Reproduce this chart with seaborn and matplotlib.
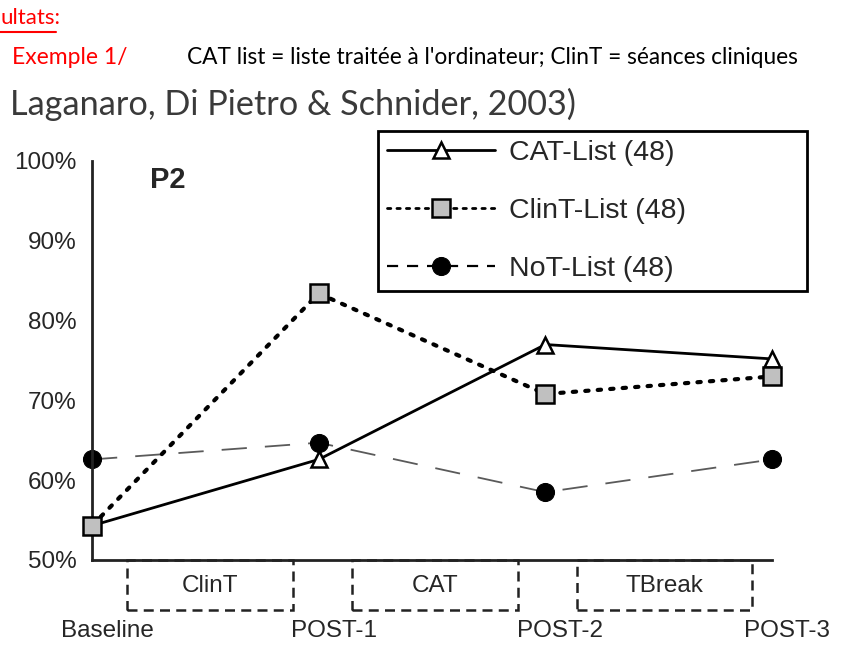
import matplotlib
matplotlib.use("Agg")
import matplotlib.pyplot as plt
import matplotlib.transforms as mtransforms
from matplotlib.patches import Rectangle
import seaborn as sns
import pandas as pd

stages = ["Baseline", "POST-1", "POST-2", "POST-3"]
cat_list = [54.3, 62.6, 77.0, 75.2]
clint_list = [54.3, 83.4, 70.8, 73.0]
not_list = [62.6, 64.7, 58.5, 62.6]
series_labels = ["CAT-List (48)", "ClinT-List (48)", "NoT-List (48)"]
yticks = [50, 60, 70, 80, 90, 100]
ytick_labels = ["50%", "60%", "70%", "80%", "90%", "100%"]
periods = ["ClinT", "CAT", "TBreak"]

sns.set_style("white")
plt.rcParams["font.family"] = ["Liberation Sans", "DejaVu Sans"]

W, H = 842, 659
fig = plt.figure(figsize=(W / 100, H / 100), dpi=100)
ax = fig.add_axes([92 / W, 1 - 560 / H, (772 - 92) / W, (560 - 161) / H])

xpos = list(range(len(stages)))
df_cat = pd.DataFrame({"x": xpos, "v": cat_list})
df_clint = pd.DataFrame({"x": xpos, "v": clint_list})
df_not = pd.DataFrame({"x": xpos, "v": not_list})

sns.lineplot(data=df_not, x="x", y="v", ax=ax, color="#5a5a5a", linewidth=1.3,
             linestyle=(0, (14, 10)), marker="o", markersize=13,
             markerfacecolor="black", markeredgecolor="black",
             label=series_labels[2], zorder=2, clip_on=False)
sns.lineplot(data=df_cat, x="x", y="v", ax=ax, color="black", linewidth=2,
             linestyle="-", marker="^", markersize=11,
             markerfacecolor="white", markeredgecolor="black", markeredgewidth=1.8,
             label=series_labels[0], zorder=3, clip_on=False)
sns.lineplot(data=df_clint, x="x", y="v", ax=ax, color="black", linewidth=3,
             linestyle=(0, (0.8, 2.2)), dash_capstyle="round", marker="s", markersize=13,
             markerfacecolor="#c0c0c0", markeredgecolor="black", markeredgewidth=1.8,
             label=series_labels[1], zorder=4, clip_on=False)

ax.set_xlim(0, 3)
ax.set_ylim(50, 100)
ax.set_xlabel("")
ax.set_ylabel("")
ax.set_yticks(yticks)
ax.set_yticklabels(ytick_labels, fontsize=17.5)
ax.set_xticks(xpos)
ax.set_xticklabels(stages, fontsize=17.5)
for s in ["top", "right"]:
    ax.spines[s].set_visible(False)
for s in ["left", "bottom"]:
    ax.spines[s].set_linewidth(2)
    ax.spines[s].set_color("#222222")
ax.tick_params(axis="y", direction="out", length=7, width=1.6, color="#222222", pad=4)
ax.tick_params(axis="x", direction="inout", length=20, width=1.6, color="#222222", pad=33)
offset = mtransforms.ScaledTranslation(15 / 100, 0, fig.dpi_scale_trans)
for lab in ax.get_xticklabels():
    lab.set_transform(lab.get_transform() + offset)

ax.text(0.256, 97.6, "P2", fontsize=21, fontweight="bold", ha="left", va="center")

# period boxes
box_x = [(0.154, 0.887), (1.147, 1.879), (2.14, 2.91)]
for (x0, x1), name in zip(box_x, periods):
    r = Rectangle((x0, 43.7), x1 - x0, 6.3, fill=False, edgecolor="#222222",
                  linewidth=1.8, linestyle=(0, (4, 2.5)), clip_on=False)
    ax.add_patch(r)
    ax.text((x0 + x1) / 2, 46.8, name, ha="center", va="center", fontsize=17.5, clip_on=False)

handles, labels = ax.get_legend_handles_labels()
order = [labels.index(l) for l in series_labels]
leg = ax.legend([handles[i] for i in order], [labels[i] for i in order],
                loc="upper left", mode="expand",
                bbox_to_anchor=(378 / W, 1 - 290 / H, (807 - 378) / W, (290 - 131) / H),
                bbox_transform=fig.transFigure, borderaxespad=0,
                fontsize=20.5, handlelength=3.8, handletextpad=0.5,
                labelspacing=1.14, borderpad=0.3, frameon=True, fancybox=False,
                framealpha=1, edgecolor="black")
leg.get_frame().set_linewidth(2)
leg_lines = leg.get_lines()
leg_lines[1].set_linewidth(2)
leg_lines[1].set_linestyle((0, (1.2, 2.2)))
leg_lines[2].set_color("black")
leg_lines[2].set_linewidth(1.6)
leg_lines[2].set_linestyle((0, (5, 4)))

# header texts
hdr = ["Lato", "DejaVu Sans"]
fig.text(0, 1 - 18 / H, "ultats:", color="#ff0000", fontsize=16, family=hdr,
         ha="left", va="center")
fig.add_artist(plt.Line2D([0, 56 / W], [1 - 32 / H, 1 - 32 / H], color="#ff0000", linewidth=1.5))
fig.text(12 / W, 1 - 58 / H, "Exemple 1/", color="#ff0000", fontsize=16.5, family=hdr,
         ha="left", va="center")
fig.text(187 / W, 1 - 57 / H, "CAT list = liste traitée à l'ordinateur; ClinT = séances cliniques",
         color="black", fontsize=16.3, family=hdr, ha="left", va="center")
fig.text(10 / W, 1 - 104 / H, "Laganaro, Di Pietro & Schnider, 2003)", color="#3a3a3a",
         fontsize=24.7, family=hdr, ha="left", va="center")

fig.savefig("out.png", dpi=100, facecolor="white")
